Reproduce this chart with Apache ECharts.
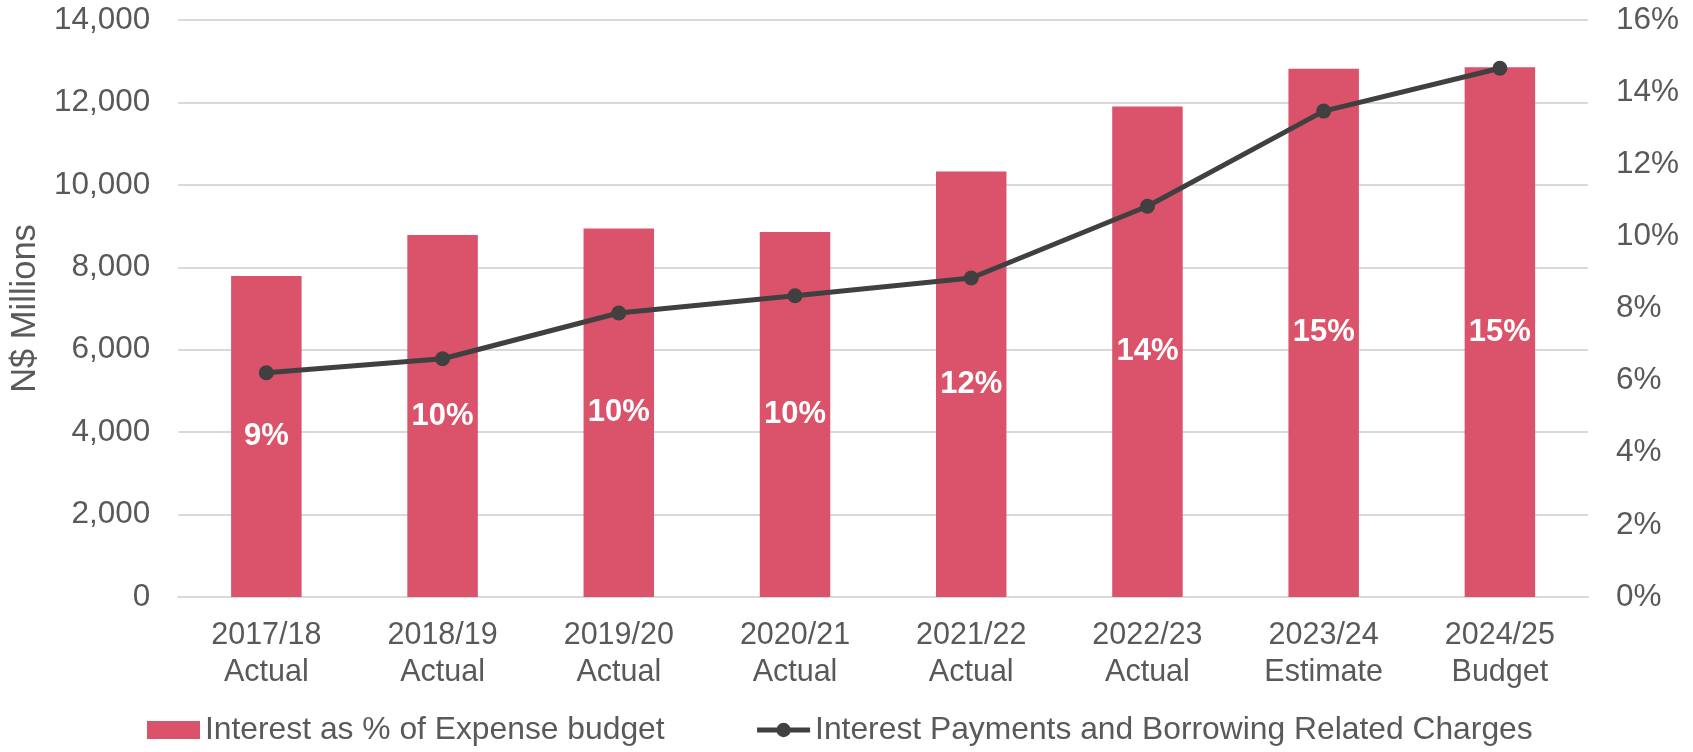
<!DOCTYPE html>
<html lang="en">
<head>
<meta charset="UTF-8">
<script src="https://cdn.jsdelivr.net/npm/echarts@6/dist/echarts.min.js"></script>
<title>Interest</title>
<style>
  html, body { margin: 0; padding: 0; background: #fff; }
  #main { width: 1693px; height: 752px; }
</style>
</head>
<body>
<div id="main"></div>
<script>
// data
var years = ['2017/18\nActual', '2018/19\nActual', '2019/20\nActual', '2020/21\nActual',
             '2021/22\nActual', '2022/23\nActual', '2023/24\nEstimate', '2024/25\nBudget'];
var interestShare = [8.9, 10.04, 10.22, 10.12, 11.8, 13.6, 14.65, 14.69];   // % of expense budget
var interestPaid = [5440, 5780, 6890, 7310, 7740, 9480, 11790, 12830];     // N$ millions

var font = 'Arial, "Liberation Sans", sans-serif';
var grey = '#595959';

var myChart = echarts.init(document.getElementById('main'));
var option = {
    animation: false,
    textStyle: { fontFamily: font },
    grid: { left: 178, right: 105, top: 20, bottom: 155 },
    legend: {
        bottom: 1,
        left: 142,
        itemGap: 90,
        itemWidth: 53,
        itemHeight: 18,
        textStyle: { color: grey, fontSize: 31.8, fontFamily: font },
        data: [
            { name: 'Interest as % of Expense budget', icon: 'rect' },
            {
                name: 'Interest Payments and Borrowing Related Charges',
                lineStyle: { width: 5 },
                itemStyle: { color: '#404040' }
            }
        ]
    },
    xAxis: {
        type: 'category',
        data: years,
        axisLine: { lineStyle: { color: '#d9d9d9', width: 2 } },
        axisTick: { show: false },
        axisLabel: { color: grey, fontSize: 30.5, lineHeight: 37, margin: 20, fontFamily: font }
    },
    yAxis: [{
        type: 'value',
        min: 0, max: 14000, interval: 2000,
        name: 'N$ Millions',
        nameLocation: 'middle',
        nameGap: 134,
        nameTextStyle: { color: grey, fontSize: 34.5, fontFamily: font },
        axisLabel: {
            color: grey, fontSize: 31.5, margin: 28, fontFamily: font,
            formatter: function (v) { return v.toLocaleString('en-US'); }
        },
        splitLine: { lineStyle: { color: '#d9d9d9', width: 2 } }
    }, {
        type: 'value',
        min: 0, max: 16, interval: 2,
        axisLabel: { color: grey, fontSize: 31.5, margin: 28, formatter: '{value}%', fontFamily: font },
        splitLine: { show: false }
    }],
    series: [{
        name: 'Interest as % of Expense budget',
        type: 'bar',
        yAxisIndex: 1,
        barWidth: '40%',
        data: interestShare,
        itemStyle: { color: '#db536a' },
        label: {
            show: true,
            position: 'inside',
            color: '#fff',
            fontWeight: 'bold',
            fontSize: 31,
            fontFamily: font,
            formatter: function (p) { return Math.round(p.value) + '%'; }
        }
    }, {
        name: 'Interest Payments and Borrowing Related Charges',
        type: 'line',
        yAxisIndex: 0,
        data: interestPaid,
        symbol: 'circle',
        symbolSize: 15,
        z: 5,
        itemStyle: { color: '#404040' },
        lineStyle: { color: '#404040', width: 5 }
    }]
};
myChart.setOption(option);
</script>
</body>
</html>
